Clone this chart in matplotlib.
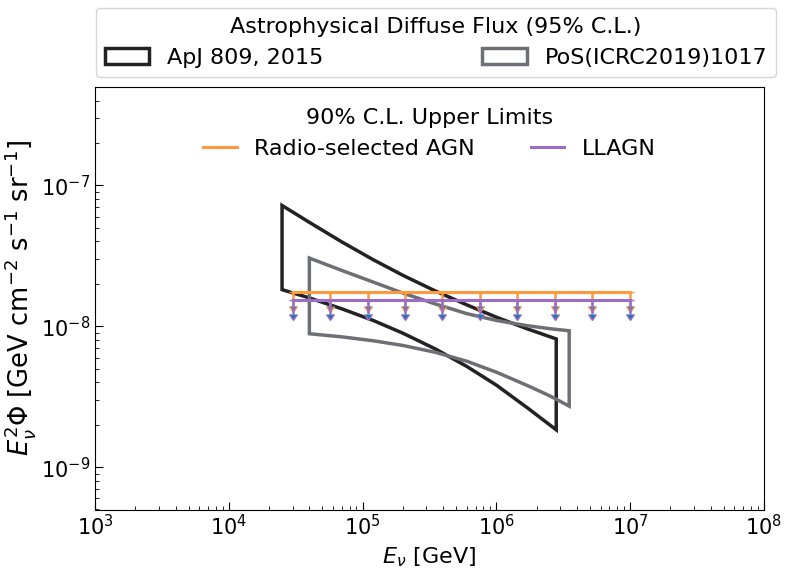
import matplotlib.pyplot as plt
import numpy as np

# astrophysical diffuse flux butterflies (E^2 Phi, GeV cm^-2 s^-1 sr^-1)
e_apj = [2.5e4, 4e4, 7e4, 1.2e5, 2e5, 3.5e5, 6e5, 1e6, 1.7e6, 2.8e6]
hi_apj = [7.21e-8, 5.47e-8, 3.97e-8, 2.97e-8, 2.30e-8, 1.78e-8, 1.42e-8, 1.16e-8, 9.59e-9, 8.13e-9]
lo_apj = [1.82e-8, 1.59e-8, 1.33e-8, 1.10e-8, 8.93e-9, 6.90e-9, 5.19e-9, 3.82e-9, 2.64e-9, 1.84e-9]

e_icrc = [4e4, 7e4, 1.2e5, 2e5, 3.5e5, 6e5, 1e6, 1.7e6, 2.5e6, 3.5e6]
hi_icrc = [3.05e-8, 2.49e-8, 2.06e-8, 1.72e-8, 1.44e-8, 1.23e-8, 1.10e-8, 1.01e-8, 9.62e-9, 9.29e-9]
lo_icrc = [8.85e-9, 8.41e-9, 7.89e-9, 7.31e-9, 6.53e-9, 5.65e-9, 4.72e-9, 3.80e-9, 3.21e-9, 2.71e-9]

# 90% upper limits
e_ul = [3e4, 5.7e4, 1.09e5, 2.07e5, 3.95e5, 7.5e5, 1.43e6, 2.73e6, 5.2e6, 1e7]
ul_radio = 1.75e-8
ul_llagn = 1.54e-8

c_apj = '#222222'
c_icrc = '#6e6f75'
c_radio = '#ff9a3c'
c_llagn = '#9b6cc8'

fig = plt.figure(figsize=(7.89, 5.72), dpi=100)
ax = fig.add_axes([95/789, 1-509.5/572, 669/789, 422.5/572])

def box(e, hi, lo, col, lab):
    x = list(e) + list(e)[::-1]
    y = list(hi) + list(lo)[::-1]
    return ax.fill(x, y, fill=False, edgecolor=col, lw=2.5, label=lab)[0]

p1 = box(e_apj, hi_apj, lo_apj, c_apj, 'ApJ 809, 2015')
p2 = box(e_icrc, hi_icrc, lo_icrc, c_icrc, 'PoS(ICRC2019)1017')

lines = []
for ul, col, lab in [(ul_radio, c_radio, 'Radio-selected AGN'), (ul_llagn, c_llagn, 'LLAGN')]:
    y = np.full(len(e_ul), ul)
    l, = ax.plot(e_ul, y, color=col, lw=2.2, label=lab)
    ax.errorbar(e_ul, y, yerr=0.2*y, uplims=True, fmt='none', ecolor=col,
                elinewidth=1.8, capsize=3)
    lines.append(l)

ax.set_xscale('log')
ax.set_yscale('log')
ax.set_xlim(1e3, 1e8)
ax.set_ylim(5e-10, 5e-7)
ax.tick_params(which='both', direction='in', labelsize=15, top=False, right=False)
ax.tick_params(which='major', length=6)
ax.tick_params(which='minor', length=3)
ax.set_xlabel(r'$E_\nu$ [GeV]', fontsize=16)
ax.set_ylabel(r'$E_\nu^2\Phi$ [GeV cm$^{-2}$ s$^{-1}$ sr$^{-1}$]', fontsize=18.5, labelpad=2)

leg2 = ax.legend(handles=lines, loc='upper center', ncol=2, frameon=False,
                 fontsize=16, title='90% C.L. Upper Limits', title_fontsize=16,
                 handlelength=1.5, columnspacing=2.5, borderaxespad=0.55)

fig.legend(handles=[p1, p2], loc='upper left', ncol=2, mode='expand',
           bbox_to_anchor=(96/789, 1-79/572, 680/789, 71/572), borderaxespad=0,
           fontsize=16, title='Astrophysical Diffuse Flux (95% C.L.)', title_fontsize=16)

fig.savefig('out.png', dpi=100)
